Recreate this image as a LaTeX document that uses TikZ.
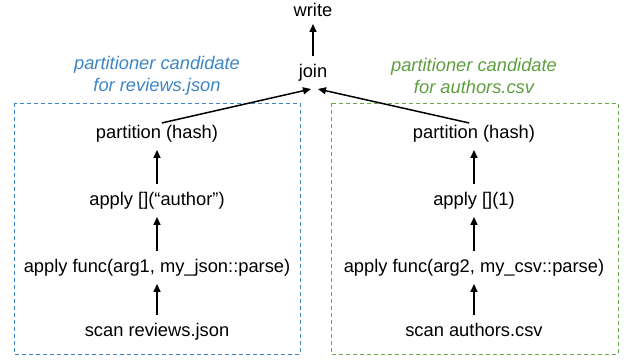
\documentclass[tikz,border=0pt]{standalone}
\usepackage{fontspec}
\setmainfont{Liberation Sans}
\usetikzlibrary{arrows.meta}
\definecolor{candblue}{HTML}{3D85C6}
\definecolor{candgreen}{HTML}{5E9E40}
\definecolor{boxgreen}{HTML}{6AA84F}
\begin{document}
\begin{tikzpicture}[x=1pt,y=-1pt,
  op/.style={inner sep=1pt, text height=13.5pt, text depth=4pt,
    font=\fontsize{18.3}{22}\selectfont},
  flow/.style={-{Triangle[length=8pt,width=7pt]}, line width=1.5pt},
  step flow/.style={flow, shorten <=7pt, shorten >=6pt},
  candbox/.style={dashed, dash pattern=on 4pt off 3pt, line width=0.9pt},
  cand/.style={font=\fontsize{18.3}{22}\selectfont\itshape, align=center}]
\useasboundingbox (0,0) rectangle (624,360);
% candidate regions
\draw[candbox, candblue] (14,103) rectangle (300,354);
\draw[candbox, boxgreen] (331,103) rectangle (618,354);
\node[cand, text=candblue] (lblA) at (157,76) {partitioner candidate\\for reviews.json};
\node[cand, text=candgreen] (lblB) at (474,76) {partitioner candidate\\for authors.csv};
% shared top
\node[op] (write) at (313,12) {write};
\node[op] (join) at (313,73) {join};
\coordinate (joinL) at (311,89);
\coordinate (joinR) at (318,89);
% left pipeline
\node[op] (pA) at (157,134) {partition (hash)};
\node[op] (iA) at (157,201) {apply [](“author”)};
\node[op] (fA) at (157,268) {apply func(arg1, my\_json::parse)};
\node[op] (sA) at (157,332) {scan reviews.json};
% right pipeline
\node[op] (pB) at (474,134) {partition (hash)};
\node[op] (iB) at (474,201) {apply [](1)};
\node[op] (fB) at (474,268) {apply func(arg2, my\_csv::parse)};
\node[op] (sB) at (474,332) {scan authors.csv};
% edges
\draw[flow, shorten <=7pt, shorten >=2pt] (join) -- (write);
\draw[flow, shorten <=5pt] (pA.north) -- (joinL);
\draw[flow, shorten <=5pt] (pB.north) -- (joinR);
\draw[step flow] (iA) -- (pA);
\draw[step flow] (fA) -- (iA);
\draw[step flow] (sA) -- (fA);
\draw[step flow] (iB) -- (pB);
\draw[step flow] (fB) -- (iB);
\draw[step flow] (sB) -- (fB);
\end{tikzpicture}
\end{document}
